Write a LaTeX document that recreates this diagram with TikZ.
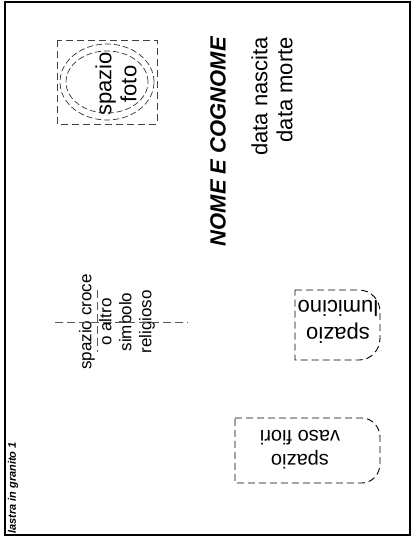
\documentclass[tikz,border=0pt]{standalone}
\usepackage{fontspec}
\setmainfont{Liberation Sans}

\begin{document}
\begin{tikzpicture}[x=1pt, y=-1pt, every node/.style={inner sep=0pt},
    up/.style={rotate=90, align=center},
    down/.style={rotate=180, align=center},
    dashbox/.style={dash pattern=on 7pt off 4pt, line width=0.9pt},
    ring/.style={dash pattern=on 6pt off 3pt, line width=0.7pt, black!80},
    crossline/.style={dash pattern=on 8pt off 4pt, line width=0.9pt, black!65}]
\useasboundingbox (0,0) rectangle (412,538);

\node[up, anchor=east, font=\bfseries\itshape\fontsize{22}{26}\selectfont] (nome) at (218,37) {NOME E COGNOME};
\node[up, anchor=east, align=right, font=\fontsize{22}{25}\selectfont] (date) at (272,37) {data nascita\\data morte};
\node[up, font=\fontsize{22}{25}\selectfont] (foto) at (116,84) {spazio\\foto};
\node[up, font=\fontsize{17}{20}\selectfont] (croce) at (117,322) {spazio croce\\o altro\\simbolo\\religioso};
\node[down, font=\fontsize{22}{27}\selectfont] (lumi) at (338,322) {spazio\\lumicino};
\node[down, font=\fontsize{20}{24}\selectfont] (vaso) at (300,450) {spazio\\vaso fiori};
\node[up, anchor=west, font=\bfseries\itshape\fontsize{11}{13}\selectfont] (lastra) at (13,534) {lastra in granito 1};

\draw[line width=2.2pt] (5,2) rectangle (410,535);
\draw[dashbox, black!75] (57,40) rectangle (157,124);
\draw[ring] (107,82) ellipse [x radius=47pt, y radius=38pt]
    (107,82) ellipse [x radius=41pt, y radius=31pt];
\draw[crossline] (55,322) -- (188,322) (97,290) -- (97,352);
\draw[dashbox]
    (295,290) -- (359,290) .. controls (371,290) and (380,300) .. (380,312)
    -- (380,338) .. controls (380,350) and (371,360) .. (359,360) -- (295,360) -- cycle
    (235,418) -- (362,418) .. controls (372,418) and (380,427) .. (380,437)
    -- (380,464) .. controls (380,474) and (372,483) .. (362,483) -- (235,483) -- cycle;
\end{tikzpicture}
\end{document}
